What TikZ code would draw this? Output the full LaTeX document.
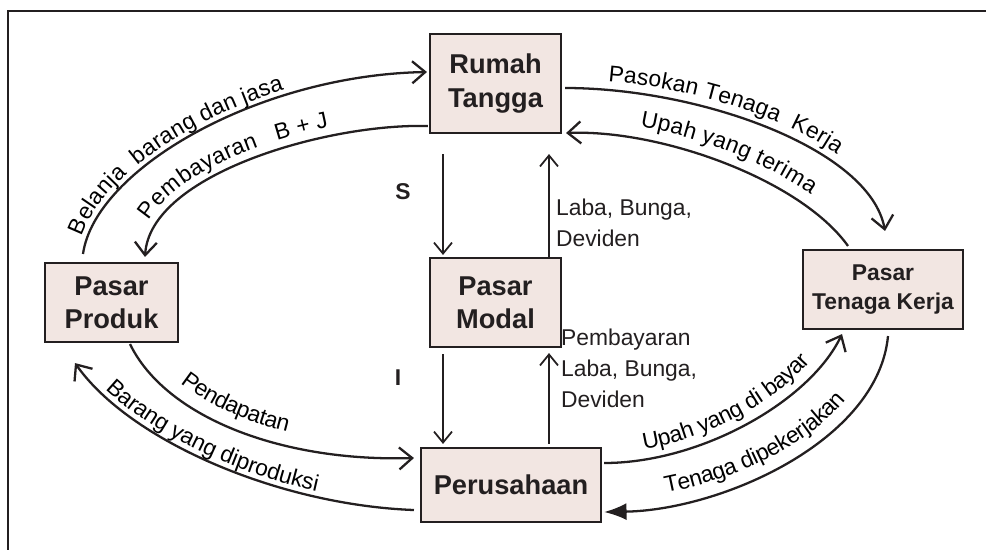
\documentclass[tikz,border=0pt]{standalone}
\usepackage{fontspec}
\setmainfont{Liberation Sans}
\usetikzlibrary{arrows.meta,calc,decorations.text}
\definecolor{isikotak}{RGB}{242,230,226}
\definecolor{garis}{RGB}{35,31,32}
\newcommand{\FB}{\fontsize{15.5}{18.8}\selectfont\bfseries}
\newcommand{\FK}{\fontsize{13}{16.5}\selectfont\bfseries}
\newcommand{\FL}{\fontsize{13}{17.6}\selectfont}

\begin{document}
\begin{tikzpicture}[x=0.02cm,y=-0.02cm]
\tikzstyle{kotak}=[draw=garis,fill=isikotak,line width=1.2pt,inner sep=0pt,align=center,text=garis,font=\FB]
\tikzstyle{teks}=[draw=none,fill=none,text=garis,font=\FL,inner sep=1pt]
\tikzstyle{alur}=[garis,line width=1.3pt,-{Straight Barb[length=2.6mm,width=4.4mm]}]
\tikzstyle{lurus}=[garis,line width=1pt,-{Straight Barb[length=2.2mm,width=3.6mm]}]
\tikzset{tulis/.style={postaction={decorate,decoration={text along path,#1}}}}

\useasboundingbox (0,0) rectangle (986,549);
% bingkai
\draw[garis,line width=1.1pt] (8,560) -- (8,11) -- (990,11);

% kotak-kotak
\node[kotak,minimum width=2.62cm,minimum height=1.98cm] (rt) at (495.5,83.5) {Rumah\\Tangga};
\node[kotak,minimum width=2.66cm,minimum height=1.58cm] (pp) at (111.5,302.5) {Pasar\\Produk};
\node[kotak,minimum width=2.62cm,minimum height=1.78cm] (pm) at (495.5,302.5) {Pasar\\Modal};
\node[kotak,minimum width=3.2cm,minimum height=1.58cm,font=\FK] (ptk) at (883,289.5) {Pasar\\Tenaga Kerja};
\node[kotak,minimum width=3.6cm,minimum height=1.48cm] (pr) at (511,485) {Perusahaan};

% alur kiri atas
\draw[alur,tulis={raise=3pt,text align={left indent=9pt},text={|\FL|Belanja{~}{~}barang dan jasa}}]
  ($(pp.north)+(-28.5,-8)$) .. controls +(12,-85) and +(-168,3) .. ($(rt.west)+(-2,-11.5)$);
\draw[alur,tulis={reverse path,raise=5pt,text align={left indent=19pt},text={|\FL|Pembayaran{~}{~}{~}B + J}}]
  ($(rt.south west)+(-1,-8)$) .. controls +(-100,-3) and +(5,-83) .. ($(pp.north)+(33.5,-5)$);

% alur kanan atas
\draw[alur,tulis={raise=5pt,text align={left indent=24pt},text={|\FL|Pasokan Tenaga{~}{~}Kerja}}]
  ($(rt.east)+(3,4.5)$) .. controls +(135,0) and +(-15,-82) .. ($(ptk.north)+(2,-18)$);
\draw[alur,tulis={reverse path,raise=7pt,text align={left indent=41pt},text={|\FL|Upah yang terima}}]
  ($(ptk.north)+(-35,-3)$) .. controls +(-48,-67) and +(93,-4) .. ($(rt.south east)+(4,-1)$);

% pasar modal
\draw[lurus] ($(rt.south)+(-52.5,20)$) -- ($(pm.north)+(-52.5,-2)$);
\draw[lurus] ($(pm.north)+(53.5,0)$) -- ($(rt.south)+(53.5,20)$);
\draw[lurus] ($(pm.south)+(-52.5,6)$) -- ($(pr.north)+(-68,-3)$);
\draw[lurus] ($(pr.north)+(38,-3)$) -- ($(pm.south)+(53.5,5)$);

% alur kiri bawah
\draw[alur,tulis={raise=8pt,text align={left indent=38pt},text={|\FL|Pendapatan}}]
  ($(pp.south)+(18.5,1)$) .. controls +(35,72) and +(-135,4) .. ($(pr.west)+(-6,-27)$);
\draw[alur,tulis={reverse path,raise=3pt,text align={left indent=23pt},text={|\FL|Barang yang diproduksi}}]
  ($(pr.west)+(-6,25)$) .. controls +(-135,-5) and +(55,78) .. ($(pp.south)+(-36.5,20)$);

% alur kanan bawah
\draw[alur,tulis={raise=6pt,text align={left indent=24pt},text={|\FL|Upah yang di bayar}}]
  ($(pr.east)+(2,-22)$) .. controls +(97,0) and +(-32,67) .. ($(ptk.south)+(-41,4)$);
\draw[garis,line width=1.3pt,-{Latex[length=4.5mm,width=3.4mm]},tulis={reverse path,raise=7pt,text align={left indent=37pt},text={|\FL|Tenaga dipekerjakan}}]
  ($(ptk.south)+(5,6)$) .. controls +(-10,105) and +(117,-2) .. ($(pr.east)+(2,27)$);

% label
\node[teks,align=left,anchor=west] (llaba) at (554,223) {Laba, Bunga,\\Deviden};
\node[teks,font=\FK] (ls) at (403,192) {S};
\node[teks,font=\FK] (li) at (398,378) {I};
\node[teks,align=left,anchor=west] (lbayarlaba) at (559,368) {Pembayaran\\Laba, Bunga,\\Deviden};
\end{tikzpicture}
\end{document}
